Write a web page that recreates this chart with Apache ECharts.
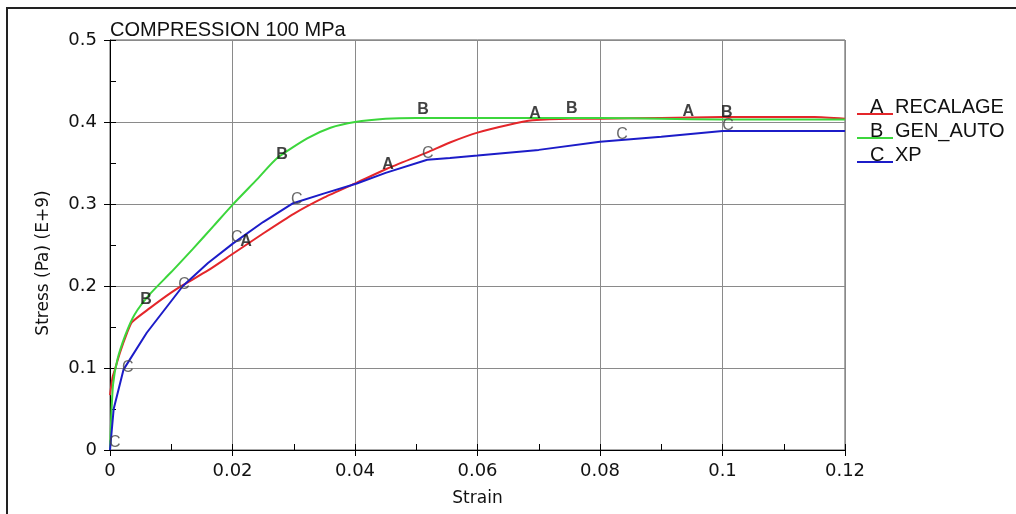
<!DOCTYPE html>
<html><head><meta charset="utf-8">
<script src="https://cdn.jsdelivr.net/npm/echarts@6/dist/echarts.min.js"></script>
<style>html,body{margin:0;padding:0;background:#fff}#c{width:1016px;height:514px}</style>
</head><body><div id="c"></div>
<script>
const titleText = 'COMPRESSION 100 MPa';
const xName = 'Strain';
const yName = 'Stress (Pa) (E+9)';
const seriesNames = ['RECALAGE', 'GEN_AUTO', 'XP'];
const seriesLetters = ['A', 'B', 'C'];
const xTickLabels = ['0', '0.02', '0.04', '0.06', '0.08', '0.1', '0.12'];
const yTickLabels = ['0', '0.1', '0.2', '0.3', '0.4', '0.5'];

const recalage = [[0,0.067],[0.0004,0.088],[0.0008,0.098],[0.0016,0.118],[0.0028,0.143],[0.0036,0.156],[0.0065,0.173],[0.0098,0.191],[0.0119,0.201],[0.016,0.219],[0.02,0.239],[0.025,0.264],[0.03,0.288],[0.035,0.308],[0.0403,0.326],[0.0452,0.343],[0.0518,0.363],[0.0555,0.375],[0.06,0.387],[0.0648,0.396],[0.069,0.402],[0.075,0.404],[0.08,0.404],[0.09,0.405],[0.1,0.406],[0.115,0.406],[0.12,0.404]];
const genAuto = [[0,0],[0.0002,0.04],[0.0005,0.08],[0.0012,0.11],[0.0025,0.14],[0.004,0.165],[0.0065,0.19],[0.01,0.217],[0.0135,0.245],[0.017,0.274],[0.02,0.299],[0.024,0.33],[0.0273,0.356],[0.0322,0.38],[0.036,0.393],[0.04,0.4],[0.045,0.404],[0.05,0.405],[0.06,0.405],[0.08,0.405],[0.09,0.404],[0.1,0.403],[0.12,0.403]];
const xp = [[0,0],[0.0006,0.05],[0.0022,0.098],[0.006,0.143],[0.0119,0.2],[0.016,0.228],[0.0201,0.252],[0.025,0.278],[0.0299,0.301],[0.035,0.313],[0.0403,0.325],[0.045,0.338],[0.0518,0.354],[0.0555,0.356],[0.06,0.359],[0.07,0.366],[0.08,0.376],[0.09,0.382],[0.1,0.389],[0.12,0.389]];

const marksA = [[0.0222,0.254],[0.0454,0.348],[0.0694,0.410],[0.0944,0.413]];
const marksB = [[0.0059,0.184],[0.0281,0.360],[0.0511,0.415],[0.0754,0.416],[0.1007,0.412]];
const marksC = [[0.0008,0.0085],[0.0029,0.101],[0.0121,0.202],[0.0207,0.259],[0.0305,0.305],[0.0519,0.361],[0.0836,0.385],[0.1009,0.396]];

const colors = ['#e4262a', '#3cd63c', '#1c1cc8'];
const markColors = ['#111', '#111', '#444'];
const markWeights = ['bold', 'bold', 'normal'];

const chart = echarts.init(document.getElementById('c'), null, {renderer: 'canvas'});

function lineSeries(name, data, color, smooth) {
  return {name, type: 'line', data, showSymbol: false, smooth: smooth,
    lineStyle: {color, width: 2}, itemStyle: {color}, z: 3, silent: true, animation: false};
}
function markSeries(letter, data, color, weight) {
  return {type: 'scatter', data, symbolSize: 0, silent: true, z: 5, animation: false,
    label: {show: true, position: 'inside', formatter: letter, color, fontWeight: weight,
      fontFamily: 'Liberation Sans', fontSize: 16}};
}

const legendGraphics = [];
const legendRowY = [106, 130, 154];
seriesNames.forEach((n, i) => {
  const y = legendRowY[i];
  legendGraphics.push({type: 'line', shape: {x1: 857, y1: y + 8, x2: 893, y2: y + 8},
    style: {stroke: colors[i], lineWidth: 2}, z: 10});
  legendGraphics.push({type: 'text', x: 870, y: y + 1,
    style: {text: seriesLetters[i], font: '20px "Liberation Sans"', fill: '#111', textAlign: 'left', textVerticalAlign: 'middle'}, z: 11});
  legendGraphics.push({type: 'text', x: 895, y: y + 1,
    style: {text: n, font: '20px "Liberation Sans"', fill: '#111', textAlign: 'left', textVerticalAlign: 'middle'}, z: 11});
});

const option = {
  animation: false,
  backgroundColor: '#fff',
  title: {text: titleText, left: 110, top: 20, padding: 0,
    textStyle: {fontFamily: 'Liberation Sans', fontSize: 20, fontWeight: 'normal', color: '#111'}},
  grid: {left: 110, right: 171, top: 40, bottom: 64, show: true, borderColor: '#555', borderWidth: 1, backgroundColor: 'transparent'},
  xAxis: [{
    type: 'value', min: 0, max: 0.12, interval: 0.02,
    name: xName, nameLocation: 'middle', nameGap: 40,
    nameTextStyle: {fontFamily: 'DejaVu Sans', fontSize: 17, color: '#111'},
    axisLine: {show: true, onZero: false, lineStyle: {color: '#000', width: 1}},
    axisTick: {show: true, inside: false, length: 6, lineStyle: {color: '#000'}},
    axisLabel: {margin: 12, fontFamily: 'DejaVu Sans', fontSize: 18, color: '#111',
      formatter: (v, i) => xTickLabels[i]},
    splitLine: {show: true, lineStyle: {color: '#8a8a8a', width: 1}}
  }, {
    type: 'value', min: 0, max: 0.12, interval: 0.01, position: 'bottom',
    axisLine: {show: false}, axisLabel: {show: false}, splitLine: {show: false},
    axisTick: {show: true, inside: true, length: 6, lineStyle: {color: '#000'}}
  }],
  yAxis: [{
    type: 'value', min: 0, max: 0.5, interval: 0.1,
    axisLine: {show: true, onZero: false, lineStyle: {color: '#000', width: 1}},
    axisTick: {show: true, inside: false, length: 6, lineStyle: {color: '#000'}},
    axisLabel: {margin: 13, fontFamily: 'DejaVu Sans', fontSize: 18, color: '#111',
      formatter: (v, i) => yTickLabels[i]},
    splitLine: {show: true, lineStyle: {color: '#8a8a8a', width: 1}}
  }, {
    type: 'value', min: 0, max: 0.5, interval: 0.05, position: 'left',
    axisLine: {show: false}, axisLabel: {show: false}, splitLine: {show: false},
    axisTick: {show: true, inside: true, length: 6, lineStyle: {color: '#000'}}
  }],
  series: [
    lineSeries(seriesNames[0], recalage, colors[0], 0.2),
    lineSeries(seriesNames[1], genAuto, colors[1], 0.2),
    lineSeries(seriesNames[2], xp, colors[2], false),
    markSeries('A', marksA, markColors[0], markWeights[0]),
    markSeries('B', marksB, markColors[1], markWeights[1]),
    markSeries('C', marksC, markColors[2], markWeights[2])
  ],
  graphic: [
    {type: 'rect', shape: {x: 7, y: 8, width: 1030, height: 530}, style: {fill: 'none', stroke: '#222', lineWidth: 2}, z: -1, silent: true},
    {type: 'text', x: 44, y: 263, rotation: Math.PI / 2,
      style: {text: yName, font: '17px "DejaVu Sans"', fill: '#111', textAlign: 'center', textVerticalAlign: 'middle'}, z: 10}
  ].concat(legendGraphics)
};
chart.setOption(option);
</script>
</body></html>
